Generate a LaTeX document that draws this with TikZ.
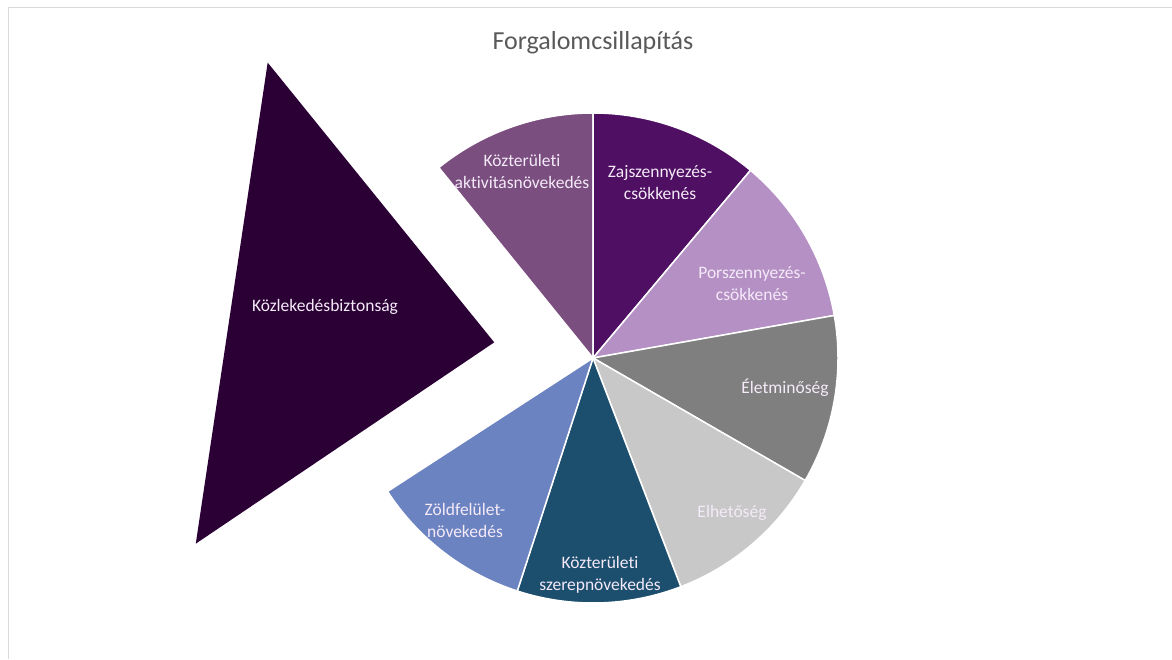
\documentclass[tikz,border=0pt]{standalone}
\usepackage{fontspec}
\setmainfont{Carlito}[Ligatures=NoCommon]
\usetikzlibrary{calc}
\definecolor{cKozl}{HTML}{2A0035}
\definecolor{cAktiv}{HTML}{7A4E7F}
\definecolor{cZaj}{HTML}{4F0F62}
\definecolor{cPor}{HTML}{B590C4}
\definecolor{cElet}{HTML}{7F7F7F}
\definecolor{cElhet}{HTML}{C8C8C8}
\definecolor{cSzerep}{HTML}{1C4E6E}
\definecolor{cZold}{HTML}{6C83C1}
\definecolor{cTitle}{HTML}{595959}
\definecolor{cFrame}{HTML}{D9D9D9}
\definecolor{cLabel}{HTML}{F4EAF8}
\begin{document}
\begin{tikzpicture}[x=1pt,y=1pt,
  slice/.style={draw=white,line width=1.5pt,line join=round},
  lab/.style={align=center,font=\fontsize{17.5}{22}\selectfont,text=cLabel,inner sep=0pt},
  ttl/.style={font=\fontsize{26}{30}\selectfont,text=cTitle,inner sep=0pt}]
\useasboundingbox (0,0) rectangle (1172,659);
\fill[white] (0,0) rectangle (1172,659);
\draw[cFrame,line width=1pt] (1172,651) -- (8,651) -- (8,0);
\def\R{245}
\coordinate (C) at (593,301);
% pie slices (tikz angles)
\filldraw[slice,fill=cAktiv] (C) -- ++(129:\R) arc[start angle=129,end angle=90,radius=\R] -- cycle;
\filldraw[slice,fill=cZaj] (C) -- ++(90:\R) arc[start angle=90,end angle=50,radius=\R] -- cycle;
\filldraw[slice,fill=cPor] (C) -- ++(50:\R) arc[start angle=50,end angle=10,radius=\R] -- cycle;
\filldraw[slice,fill=cElet] (C) -- ++(10:\R) arc[start angle=10,end angle=-30,radius=\R] -- cycle;
\filldraw[slice,fill=cElhet] (C) -- ++(-30:\R) arc[start angle=-30,end angle=-69,radius=\R] -- cycle;
\filldraw[slice,fill=cSzerep] (C) -- ++(-69:\R) arc[start angle=-69,end angle=-108,radius=\R] -- cycle;
\filldraw[slice,fill=cZold] (C) -- ++(-108:\R) arc[start angle=-108,end angle=-147,radius=\R] -- cycle;
% exploded slice
\coordinate (A) at ($(C)+(171:100)$);
\coordinate (T) at ($(A)+(129:360)$);
\coordinate (B) at ($(A)+(214:360)$);
\fill[cKozl] (A) -- (T) -- (B) -- cycle;
% labels
\node[ttl] (title) at (593,616) {Forgalomcsillapítás};
\node[lab] (lAktiv) at (522,488) {Közterületi\\aktivitásnövekedés};
\node[lab] (lZaj) at (660,476) {Zajszennyezés-\\csökkenés};
\node[lab] (lPor) at (752,375) {Porszennyezés-\\csökkenés};
\node[lab] (lElet) at (785,271) {Életminőség};
\node[lab] (lElhet) at (732,146) {Elhetőség};
\node[lab] (lSzerep) at (600,84) {Közterületi\\szerepnövekedés};
\node[lab] (lZold) at (465,139) {Zöldfelület-\\növekedés};
\node[lab] (lKozl) at (325,352) {Közlekedésbiztonság};
\end{tikzpicture}
\end{document}
